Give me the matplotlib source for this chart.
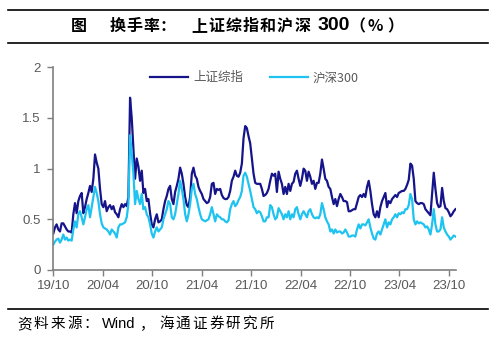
import matplotlib
matplotlib.use("Agg")
import matplotlib.pyplot as plt
from matplotlib.lines import Line2D
import pandas as pd

plt.rcParams['font.family'] = ['Liberation Sans', 'Noto Sans CJK SC', 'DejaVu Sans']

title_parts = ["图", "换手率：", "上证综指和沪深", "300", "（%）"]
source_parts = ["资料来源：", "Wind", "，", "海通证券研究所"]
series_names = ["上证综指", "沪深300"]
start_date = "2019-10-01"
end_date = "2023-10-25"
tick_dates = ["2019-10-01", "2020-04-01", "2020-10-01", "2021-04-01", "2021-10-01",
              "2022-04-01", "2022-10-01", "2023-04-01", "2023-10-01"]
tick_labels = ["19/10", "20/04", "20/10", "21/04", "21/10", "22/04", "22/10", "23/04", "23/10"]
y_ticks = [0, 0.5, 1, 1.5, 2]
y_tick_labels = ["0", "0.5", "1", "1.5", "2"]

sse = [0.36, 0.42, 0.45, 0.40, 0.38, 0.46, 0.46, 0.43, 0.40, 0.38, 0.38, 0.37,
       0.55, 0.66, 0.56, 0.68, 0.73, 0.76, 0.56, 0.62, 0.70, 0.76, 0.83, 0.77,
       0.90, 1.14, 1.06, 1.00, 0.80, 0.65, 0.62, 0.68, 0.58, 0.62, 0.64, 0.60,
       0.63, 0.57, 0.55, 0.52, 0.60, 0.65, 0.62, 0.65, 0.63, 0.72, 1.70, 1.50,
       1.20, 0.90, 1.10, 1.02, 0.88, 0.98, 0.76, 0.80, 0.68, 0.70, 0.56, 0.45,
       0.42, 0.50, 0.55, 0.47, 0.48, 0.50, 0.60, 0.68, 0.73, 0.80, 0.83, 0.70,
       0.65, 0.77, 0.83, 0.90, 1.01, 0.95, 0.85, 0.72, 0.64, 0.62, 0.72, 0.95,
       1.01, 0.93, 0.90, 0.82, 0.78, 0.75, 0.70, 0.68, 0.66, 0.67, 0.72, 0.85,
       0.86, 0.75, 0.80, 0.79, 0.80, 0.74, 0.71, 0.70, 0.70, 0.72, 0.78, 0.88,
       0.92, 0.98, 0.93, 0.92, 0.96, 1.05, 1.30, 1.42, 1.40, 1.32,
       1.25, 1.10, 0.95, 0.86, 0.85, 0.85, 0.85, 0.80, 0.73, 0.74, 0.76, 0.80,
       0.88, 0.95, 0.93, 0.95, 0.77, 0.97, 0.90, 0.85, 0.75, 0.82, 0.75, 0.85,
       0.78, 0.85, 0.87, 0.95, 0.98, 0.90, 0.83, 0.90, 1.00, 0.98, 0.88, 0.97,
       0.92, 0.85, 0.88, 0.80, 0.86, 0.86, 0.95, 1.09, 1.00, 0.90, 0.88, 0.82,
       0.80, 0.72, 0.65, 0.70, 0.63, 0.70, 0.75, 0.72, 0.68, 0.68, 0.67, 0.58,
       0.58, 0.59, 0.60, 0.60, 0.66, 0.72, 0.74, 0.72, 0.75, 0.72, 0.82, 0.88,
       0.78, 0.65, 0.55, 0.52, 0.58, 0.52, 0.62, 0.68, 0.72, 0.76, 0.62, 0.68,
       0.66, 0.70, 0.72, 0.74, 0.72, 0.76, 0.77, 0.78, 0.78, 0.80, 0.84, 0.89,
       1.05, 1.03, 0.90, 0.68, 0.66, 0.65, 0.66, 0.66, 0.65, 0.60, 0.58, 0.56,
       0.54, 0.75, 0.96, 0.80, 0.66, 0.62, 0.63, 0.81, 0.68, 0.61, 0.60, 0.57,
       0.53, 0.55, 0.58, 0.60]

hs300 = [0.25, 0.28, 0.30, 0.31, 0.27, 0.30, 0.35, 0.30, 0.32, 0.29, 0.30, 0.29,
         0.40, 0.48, 0.42, 0.55, 0.58, 0.52, 0.45, 0.52, 0.60, 0.64, 0.52, 0.62,
         0.72, 0.82, 0.76, 0.68, 0.55, 0.46, 0.42, 0.41, 0.40, 0.38, 0.35, 0.40,
         0.38, 0.36, 0.32, 0.42, 0.45, 0.45, 0.46, 0.47, 0.52, 0.65, 1.33, 1.15,
         0.95, 0.65, 0.78, 0.70, 0.65, 0.75, 0.60, 0.62, 0.55, 0.52, 0.45, 0.36,
         0.32, 0.38, 0.42, 0.38, 0.40, 0.42, 0.50, 0.55, 0.60, 0.68, 0.65, 0.52,
         0.50, 0.55, 0.65, 0.75, 0.88, 0.80, 0.70, 0.55, 0.48, 0.55, 0.65, 0.80,
         0.85, 0.75, 0.70, 0.62, 0.55, 0.50, 0.49, 0.48, 0.49, 0.50, 0.55, 0.62,
         0.55, 0.48, 0.55, 0.53, 0.52, 0.50, 0.50, 0.48, 0.47, 0.49, 0.60, 0.65,
         0.68, 0.63, 0.65, 0.69, 0.72, 0.78, 0.93, 0.96, 0.92, 0.85,
         0.78, 0.70, 0.62, 0.60, 0.56, 0.58, 0.57, 0.53, 0.48, 0.48, 0.52, 0.52,
         0.64, 0.62, 0.55, 0.50, 0.52, 0.61, 0.58, 0.55, 0.50, 0.55, 0.52, 0.58,
         0.50, 0.55, 0.52, 0.60, 0.62, 0.55, 0.50, 0.55, 0.58, 0.55, 0.52, 0.58,
         0.60, 0.55, 0.52, 0.51, 0.52, 0.51, 0.55, 0.66, 0.60, 0.52, 0.48, 0.45,
         0.38, 0.40, 0.36, 0.40, 0.37, 0.38, 0.38, 0.36, 0.37, 0.40, 0.37, 0.33,
         0.33, 0.34, 0.34, 0.33, 0.40, 0.45, 0.41, 0.45, 0.45, 0.44, 0.47, 0.50,
         0.42, 0.36, 0.31, 0.30, 0.36, 0.38, 0.35, 0.40, 0.45, 0.50, 0.42, 0.47,
         0.45, 0.50, 0.52, 0.55, 0.52, 0.56, 0.55, 0.57, 0.56, 0.60, 0.60, 0.64,
         0.75, 0.70, 0.50, 0.45, 0.48, 0.46, 0.47, 0.46, 0.45, 0.42, 0.43, 0.40,
         0.35, 0.45, 0.60, 0.45, 0.38, 0.38, 0.40, 0.52, 0.42, 0.38, 0.35, 0.33,
         0.30, 0.32, 0.34, 0.33]

dates = pd.date_range(start_date, end_date, periods=len(sse))

W, H = 500, 341
fig = plt.figure(figsize=(W / 100, H / 100), dpi=100)
ax = fig.add_axes([53.3 / W, 1 - 270 / H, (456 - 53.3) / W, (270 - 67.3) / H])

c_sse = "#15148a"
c_hs = "#1ec3f0"
ax.plot(dates, sse, color=c_sse, lw=1.6)
ax.plot(dates, hs300, color=c_hs, lw=1.6)

ax.set_ylim(0, 2)
ax.set_xlim(pd.Timestamp(start_date), pd.Timestamp("2023-10-27"))
ax.set_yticks(y_ticks)
ax.set_yticklabels(y_tick_labels)
ax.set_xticks([pd.Timestamp(d) for d in tick_dates])
ax.set_xticklabels(tick_labels)

axis_color = "#7f7f7f"
for s in ["top", "right"]:
    ax.spines[s].set_visible(False)
for s in ["left", "bottom"]:
    ax.spines[s].set_color(axis_color)
    ax.spines[s].set_linewidth(1.2)
ax.tick_params(axis="both", colors=axis_color, labelcolor="#595959", labelsize=9.5,
               length=4, width=1.0, direction="out")
ax.tick_params(axis="x", pad=3)
ax.tick_params(axis="y", pad=5)

handles = [Line2D([], [], color=c_sse, lw=1.6), Line2D([], [], color=c_hs, lw=1.6)]
leg = ax.legend(handles, series_names, loc="upper center", bbox_to_anchor=(0.5, 1.035),
                ncol=2, frameon=False, handlelength=3.0, handletextpad=0.4,
                columnspacing=2.2, prop={'family': ['Noto Sans CJK SC'], 'size': 9})
for t in leg.get_texts():
    t.set_color("#595959")

for yy in [10, 42.5, 308.5]:
    fig.add_artist(Line2D([8 / W, 488 / W], [1 - yy / H, 1 - yy / H], color="black", lw=1.2))


def spaced(x0, y, s, pitch, **kw):
    for i, ch in enumerate(s):
        fig.text((x0 + i * pitch) / W, 1 - y / H, ch, ha="left", va="center", **kw)


cjk = ['Noto Sans CJK SC', 'DejaVu Sans']
tkw = dict(fontsize=11.5, fontweight="bold", family=cjk, color="black")
spaced(71, 26, title_parts[0], 16, **tkw)
spaced(110, 26, title_parts[1], 16.5, **tkw)
spaced(191, 26, title_parts[2], 17.2, **tkw)
fig.text(318 / W, 1 - 26 / H, title_parts[3], ha="left", va="center", fontsize=14,
         fontweight="bold", family=['Liberation Sans'])
spaced(349, 26, title_parts[4], 19, **tkw)

skw = dict(fontsize=10.5, family=cjk, color="black")
spaced(17, 324, source_parts[0], 16.7, **skw)
fig.text(102 / W, 1 - 324 / H, source_parts[1], ha="left", va="center", fontsize=10.5,
         family=['Liberation Sans'], color="black")
spaced(140, 324, source_parts[2], 16, **skw)
spaced(159, 324, source_parts[3], 16.7, **skw)

fig.savefig("out.png", dpi=100)
